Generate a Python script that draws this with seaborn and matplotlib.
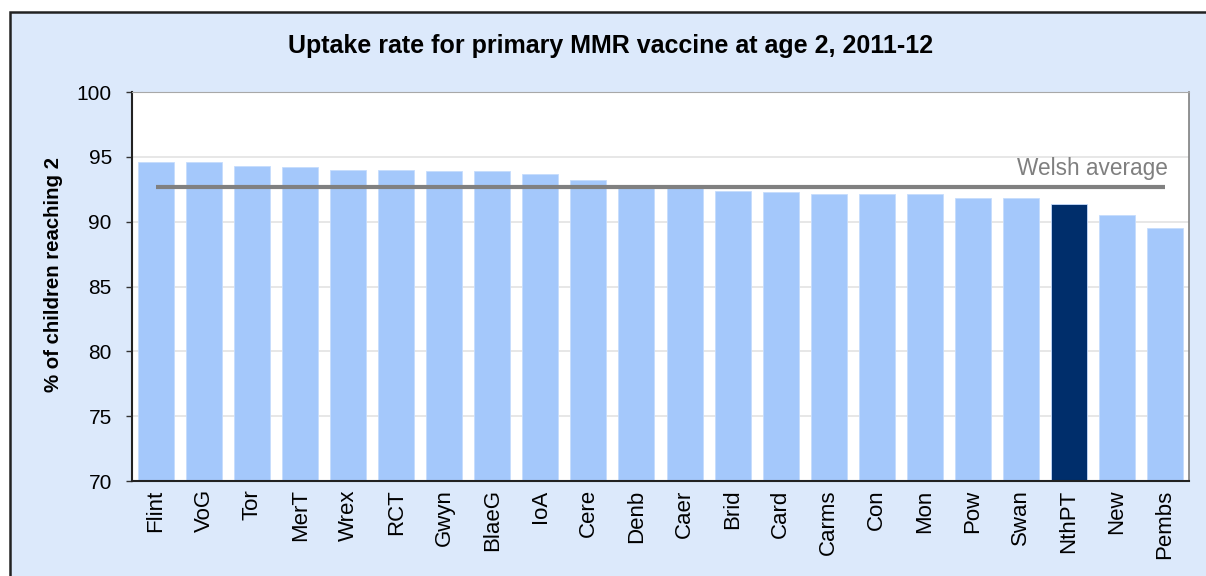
import matplotlib
matplotlib.use("Agg")
import matplotlib.pyplot as plt
import seaborn as sns
import pandas as pd
from matplotlib.patches import Rectangle

# Data
areas = ["Flint", "VoG", "Tor", "MerT", "Wrex", "RCT", "Gwyn", "BlaeG", "IoA", "Cere", "Denb",
         "Caer", "Brid", "Card", "Carms", "Con", "Mon", "Pow", "Swan", "NthPT", "New", "Pembs"]
uptake = [94.6, 94.6, 94.3, 94.2, 94.0, 94.0, 93.9, 93.9, 93.7, 93.2, 92.7,
          92.6, 92.4, 92.3, 92.1, 92.1, 92.1, 91.8, 91.8, 91.4, 90.5, 89.5]
highlight = "NthPT"
welsh_average = 92.7
y_ticks = [70, 75, 80, 85, 90, 95, 100]

df = pd.DataFrame({"Area": areas, "Uptake": uptake})
df["Group"] = ["Highlight" if a == highlight else "Other" for a in areas]

light_blue = "#A4C8FB"
navy = "#002E6B"
bg = "#DCE9FB"

sns.set_style("white")
plt.rcParams["font.family"] = ["Liberation Sans", "DejaVu Sans"]
plt.rcParams["text.color"] = "black"
plt.rcParams["xtick.color"] = "black"
plt.rcParams["ytick.color"] = "black"
plt.rcParams["axes.labelcolor"] = "black"

fig = plt.figure(figsize=(12.06, 5.76), dpi=100)
fig.patch.set_facecolor("white")
# Light blue chart area with a black frame (cropped at right and bottom)
fig.patches.append(Rectangle((10 / 1206, -0.05), 1.1, 1.05 - 12 / 576,
                             transform=fig.transFigure, facecolor=bg,
                             edgecolor="#222222", linewidth=1.8, zorder=-10))

ax = fig.add_axes([132 / 1206, 1 - 481 / 576, (1189 - 132) / 1206, (481 - 92) / 576])
ax.set_zorder(5)
ax.set_facecolor("white")

sns.barplot(data=df, x="Area", y="Uptake", hue="Group",
            palette={"Other": light_blue, "Highlight": navy}, saturation=1,
            width=0.75, dodge=False, legend=False, ax=ax, zorder=2,
            edgecolor="#C6DCFD", linewidth=0.6)

# Welsh average line runs from the first to the last category
n = len(areas)
ax.plot([0, n - 1], [welsh_average, welsh_average], color="#808080",
        linewidth=3, zorder=3, solid_capstyle="butt")
ax.text(n - 1 + 0.05, 93.6, "Welsh average", ha="right", va="baseline",
        fontsize=16.3, color="#7F7F7F", zorder=4)

ax.set_ylim(70, 100)
ax.set_xlim(-0.5, n - 0.5)
ax.set_yticks(y_ticks)
ax.set_yticklabels([str(t) for t in y_ticks], fontsize=15)
ax.yaxis.grid(True, color="#E3E3E3", linewidth=1.2, zorder=0)
ax.set_axisbelow(True)
ax.tick_params(axis="y", which="major", left=True, length=4.5, width=1, color="#333333", pad=10)
ax.tick_params(axis="x", length=0, labelsize=16, pad=6)
plt.setp(ax.get_xticklabels(), rotation=90)

for side in ["left", "bottom"]:
    ax.spines[side].set_color("#222222")
    ax.spines[side].set_linewidth(1.5)
ax.spines["right"].set_color("#808080")
ax.spines["right"].set_linewidth(1.2)
ax.spines["top"].set_color("#A8A8A8")

ax.set_xlabel("")
ax.set_ylabel("% of children reaching 2", fontsize=14.7, fontweight="bold")
ax.yaxis.set_label_coords(-0.0653, 0.5296)

fig.text(611 / 1206, 1 - 46 / 576, "Uptake rate for primary MMR vaccine at age 2, 2011-12",
         ha="center", va="center", fontsize=18, fontweight="bold")

fig.savefig("out.png", dpi=100, facecolor=fig.get_facecolor())
